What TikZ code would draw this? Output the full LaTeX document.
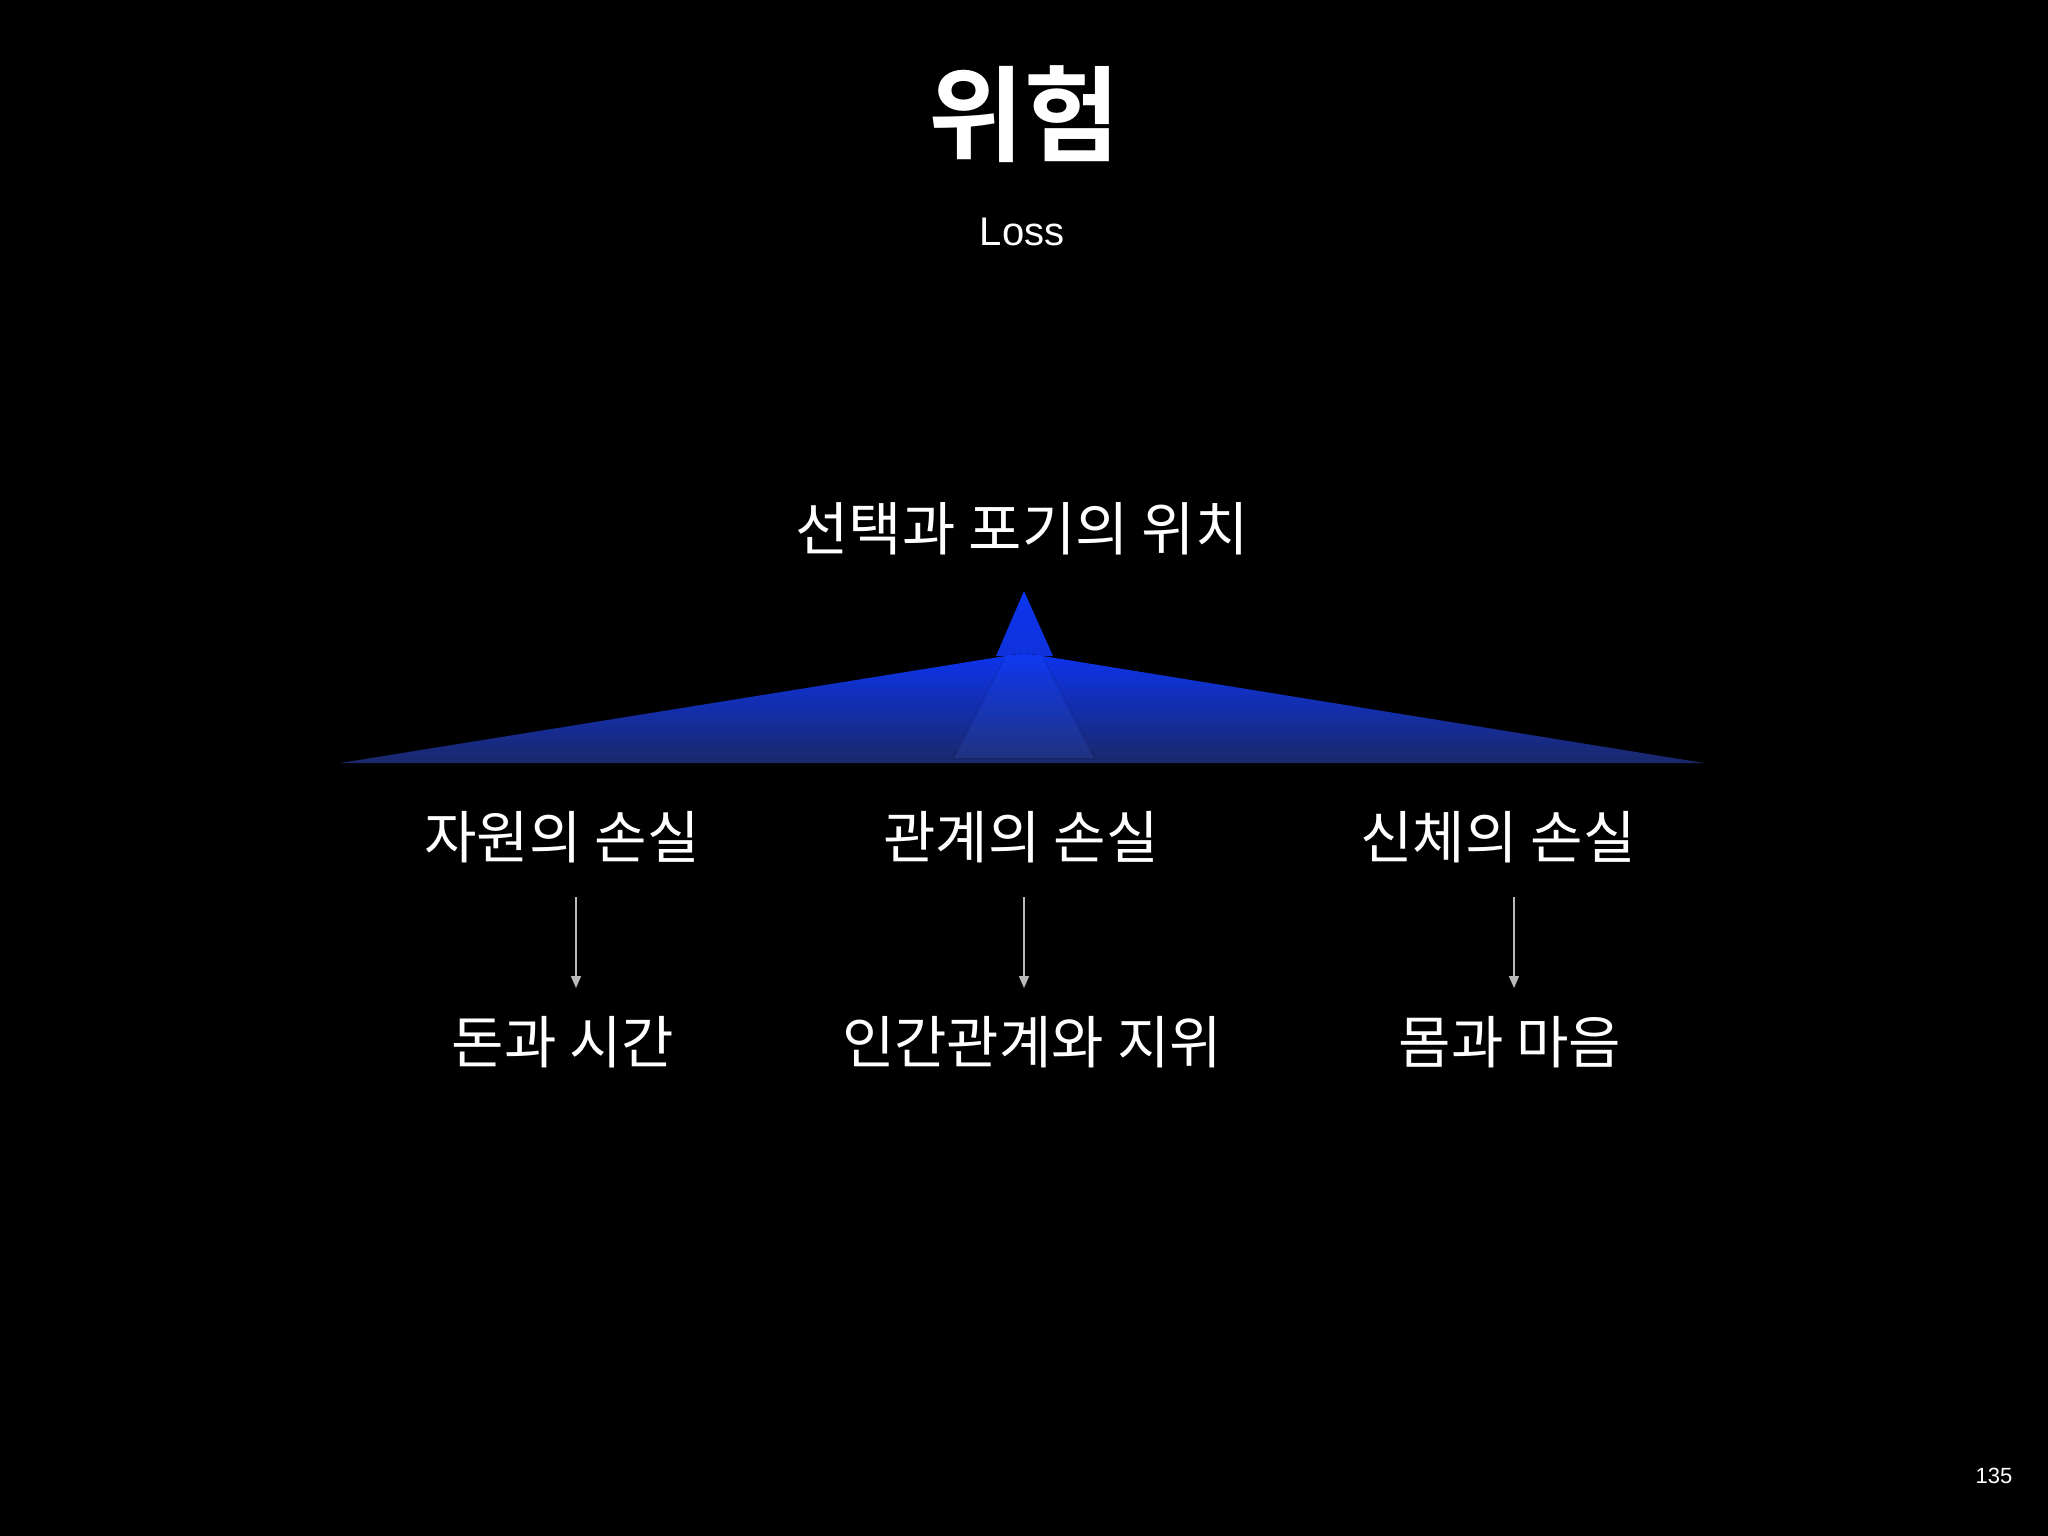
\documentclass[tikz,border=0pt]{standalone}
\usepackage{fontspec}
\setmainfont{Liberation Sans}
\newfontfamily\cjk{Noto Sans CJK KR}
\newfontfamily\cjkb{Noto Sans CJK KR Bold}
\usetikzlibrary{arrows.meta}
\definecolor{apexblue}{RGB}{12,52,238}
\definecolor{basenavy}{RGB}{26,40,105}
\definecolor{lightapex}{RGB}{14,56,240}
\definecolor{lightbase}{RGB}{32,50,128}
\definecolor{arrowgray}{RGB}{185,185,185}
\tikzset{
  label kr/.style={text=white, inner sep=0pt, font=\cjk\fontsize{57}{68}\selectfont},
  arr/.style={draw=arrowgray, line width=1.6pt, -{Triangle[width=10pt,length=12pt]}},
}
\begin{document}
\begin{tikzpicture}[x=1pt,y=-1pt]
\fill[black] (0,0) rectangle (2048,1536);
\useasboundingbox (0,0) rectangle (2048,1536);
% spike
\fill[top color=apexblue, bottom color=apexblue!85!basenavy] (1024,591) -- (1053,656) -- (996,656) -- cycle;
% big triangle
\fill[top color=apexblue, bottom color=basenavy] (1024,653) -- (1704,763) -- (340,763) -- cycle;
% lighter central band
\fill[top color=lightapex, bottom color=lightbase] (1006,655) -- (1042,655) -- (1094,758) -- (954,758) -- cycle;
% texts
\node[text=white, inner sep=0pt, font=\cjkb\fontsize{104}{116}\selectfont] (title) at (1024,114) {위험};
\node[text=white, inner sep=0pt, font=\fontsize{40}{48}\selectfont] (sub) at (1022,232) {Loss};
\node[label kr, font=\cjk\fontsize{58}{70}\selectfont] (top) at (1022,529) {선택과 포기의 위치};
\node[label kr] (r1) at (562,837) {자원의 손실};
\node[label kr] (r2) at (1021,837) {관계의 손실};
\node[label kr] (r3) at (1498,837) {신체의 손실};
\node[label kr] (m1) at (563,1042) {돈과 시간};
\node[label kr] (m2) at (1032,1042) {인간관계와 지위};
\node[label kr] (m3) at (1510,1042) {몸과 마음};
\coordinate (s1) at (576,897); \coordinate (e1) at (576,988);
\coordinate (s2) at (1024,897); \coordinate (e2) at (1024,988);
\coordinate (s3) at (1514,897); \coordinate (e3) at (1514,988);
\draw[arr] (s1) -- (e1);
\draw[arr] (s2) -- (e2);
\draw[arr] (s3) -- (e3);
\node[text=white, inner sep=0pt, font=\fontsize{22}{26}\selectfont] (page) at (1994,1476) {135};
\end{tikzpicture}
\end{document}
